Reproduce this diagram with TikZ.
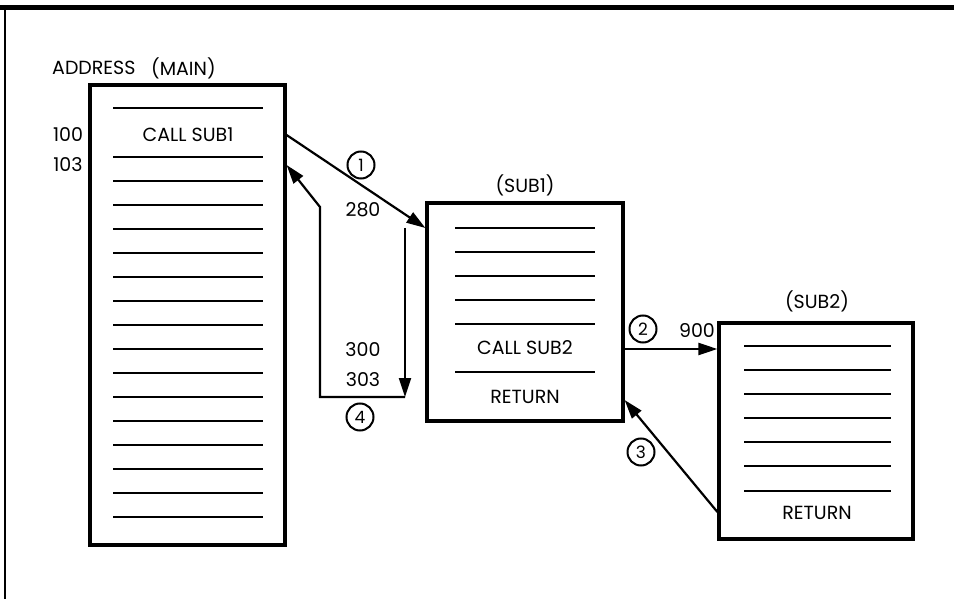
\documentclass[tikz,border=0pt]{standalone}
\usepackage{fontspec}
\setmainfont{Poppins}
\usetikzlibrary{arrows.meta,calc}
\begin{document}
\begin{tikzpicture}[x=1pt,y=-1pt,
  box/.style={draw,line width=3.2pt,minimum width=#1,inner sep=0pt},
  rule/.style={line width=2.3pt},
  conn/.style={line width=2.2pt,-{Triangle[length=19pt,width=12pt]}},
  lbl/.style={font=\fontsize{19}{22}\selectfont,inner sep=0pt},
  num/.style={draw,circle,line width=2pt,minimum size=27pt,inner sep=0pt,font=\fontsize{17}{19}\selectfont}]
\useasboundingbox (0,0) rectangle (954,599);
% frame
\draw[line width=5pt] (0,8) -- (954,8);
\draw[line width=2.2pt] (5,8) -- (5,599);
% boxes
\node[box=195pt,minimum height=460pt] (main) at (187.5,315) {};
\node[box=196pt,minimum height=218pt] (sub1) at (525,312) {};
\node[box=194pt,minimum height=216pt] (sub2) at (816,431) {};
% titles
\node[lbl,anchor=west] (addr) at (52,68) {ADDRESS};
\node[lbl,anchor=west] (mainname) at (151,68) {(MAIN)};
\node[lbl] (sub1name) at (525,185) {(SUB1)};
\node[lbl] (sub2name) at (817,301) {(SUB2)};
% main box contents
\draw[rule] (113,108) -- (263,108);
\foreach \k in {0,...,15} {\draw[rule] (113,157+24*\k) -- (263,157+24*\k);}
\node[lbl] (call1) at (188,135) {CALL SUB1};
\node[lbl] (a100) at (68,135) {100};
\node[lbl] (a103) at (68,165) {103};
% sub1 contents
\foreach \y in {228,252,276,300,324,372} {\draw[rule] (455,\y) -- (595,\y);}
\node[lbl] (call2) at (525,348) {CALL SUB2};
\node[lbl] (ret1) at (525,397) {RETURN};
% sub2 contents
\foreach \y in {346,370,394,418,442,466,491} {\draw[rule] (744,\y) -- (891,\y);}
\node[lbl] (ret2) at (817,513) {RETURN};
% address labels
\node[lbl] (a280) at (363,210) {280};
\node[lbl] (a300) at (363,350) {300};
\node[lbl] (a303) at (363,380) {303};
\node[lbl] (a900) at (697,331) {900};
% circled numbers
\node[num] (c1) at (361,165) {1};
\node[num] (c2) at (643,329) {2};
\node[num] (c3) at (641,452) {3};
\node[num] (c4) at (360,417) {4};
% connector coordinates
\coordinate (m1) at (main.east |- call1);
\coordinate (s1in) at (sub1.west |- 0,228);
\coordinate (dtop) at (405,228);
\coordinate (dbot) at (405,397);
\coordinate (lcorner) at (320,397);
\coordinate (ltop) at (320,207);
\coordinate (m4) at (main.east |- 0,165);
\coordinate (s1out) at (sub1.east |- 0,349);
\coordinate (s2in) at (sub2.west |- 0,349);
\coordinate (s2out) at (sub2.west |- 0,512);
\coordinate (s1back) at (sub1.east |- 0,400);
% connectors
\draw[conn] (m1) -- (s1in);
\draw[conn] (dtop) -- (dbot);
\draw[conn] (dbot) -- (lcorner) -- (ltop) -- (m4);
\draw[conn] (s1out) -- (s2in);
\draw[conn] (s2out) -- (s1back);
\end{tikzpicture}
\end{document}
